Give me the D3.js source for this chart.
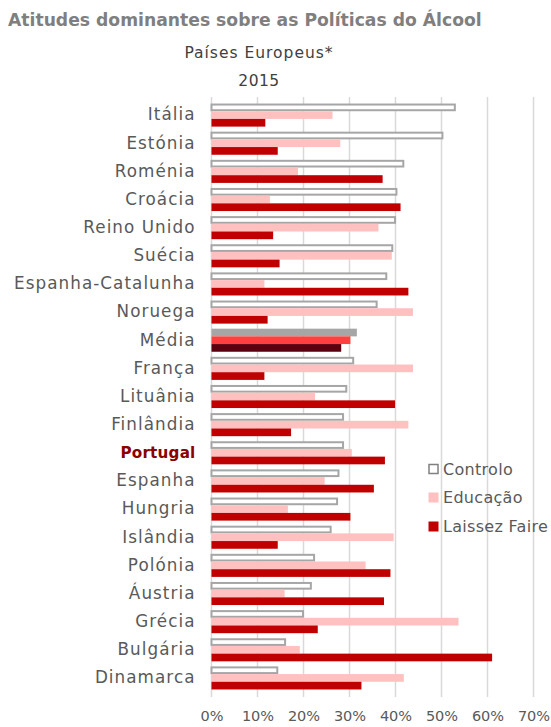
<!DOCTYPE html>
<html><head><meta charset="utf-8">
<script src="https://cdn.jsdelivr.net/npm/d3@7"></script>
<style>body{margin:0;background:#fff;} svg{display:block;}</style>
</head><body>
<script>
const categories = ["Itália","Estónia","Roménia","Croácia","Reino Unido","Suécia","Espanha-Catalunha","Noruega","Média","França","Lituânia","Finlândia","Portugal","Espanha","Hungria","Islândia","Polónia","Áustria","Grécia","Bulgária","Dinamarca"];
const controlo = [52.9,50.2,41.7,40.2,39.9,39.3,38.0,35.9,31.6,30.8,29.3,28.6,28.6,27.6,27.3,25.9,22.3,21.6,19.9,16.0,14.3];
const educacao = [26.3,28.0,18.8,12.7,36.3,39.2,11.5,43.8,30.2,43.8,22.5,42.8,30.5,24.6,16.6,39.6,33.5,15.9,53.7,19.2,41.8];
const laissez  = [11.7,14.4,37.2,41.1,13.4,14.8,42.8,12.2,28.2,11.5,39.9,17.3,37.7,35.3,30.2,14.4,38.9,37.5,23.1,61.0,32.6];
const seriesNames = ["Controlo","Educação","Laissez Faire"];
const xTicks = [0,10,20,30,40,50,60,70];

const W = 551, H = 727;
const FONT = "'DejaVu Sans', sans-serif";
const svg = d3.select("body").append("svg").attr("width", W).attr("height", H);

const x = d3.scaleLinear().domain([0,70]).range([211.5, 533.5]);
const y = d3.scaleBand().domain(categories).range([101, 692]).paddingInner(0.18).paddingOuter(0.09);
const ys = d3.scaleBand().domain(seriesNames).range([0, y.bandwidth()]);

// title
svg.append("text").attr("x", 8).attr("y", 26).attr("font-family", FONT).attr("font-weight", "bold")
  .attr("font-size", 17.2).attr("fill", "#7f7f7f").text("Atitudes dominantes sobre as Políticas do Álcool");
svg.append("text").attr("x", 259).attr("y", 58).attr("text-anchor","middle").attr("font-family", FONT)
  .attr("font-size", 15.5).attr("letter-spacing", 1).attr("fill", "#404040").text("Países Europeus*");
svg.append("text").attr("x", 259).attr("y", 86).attr("text-anchor","middle").attr("font-family", FONT)
  .attr("font-size", 15.5).attr("letter-spacing", 0.5).attr("fill", "#404040").text("2015");

// grid
const g = svg.append("g");
g.selectAll("line.grid").data(xTicks).join("line")
  .attr("x1", d => x(d)).attr("x2", d => x(d)).attr("y1", 97).attr("y2", 697)
  .attr("stroke", "#d9d9d9").attr("stroke-width", 1.5);

// x axis labels
const xAxis = d3.axisBottom(x).tickValues(xTicks).tickFormat(d => d + "%").tickSize(0).tickPadding(14);
const ax = svg.append("g").attr("transform", "translate(0,697)").call(xAxis);
ax.select(".domain").remove();
ax.selectAll("text").attr("font-family", FONT).attr("font-size", 14.5).attr("fill", "#595959");

// bars
const rows = categories.map((c,i) => ({c, vals:[controlo[i], educacao[i], laissez[i]]}));
const fills = ["#ffffff", "#ffc0c0", "#c00000"];
const mediaFills = ["#a6a6a6", "#ff4040", "#5c0010"];
rows.forEach(r => {
  r.vals.forEach((v, k) => {
    const isMedia = r.c === "Média";
    const yy = y(r.c) + ys(seriesNames[k]);
    const h = ys.bandwidth();
    if (k === 0 && !isMedia) {
      g.append("rect").attr("x", x(0)).attr("y", yy + 1).attr("width", x(v) - x(0)).attr("height", h - 2)
        .attr("fill", "#fff").attr("stroke", "#a6a6a6").attr("stroke-width", 2);
    } else {
      g.append("rect").attr("x", x(0)).attr("y", yy).attr("width", x(v) - x(0)).attr("height", h)
        .attr("fill", isMedia ? mediaFills[k] : fills[k]);
    }
  });
});

// y labels
const yAxis = d3.axisLeft(y).tickSize(0).tickPadding(16);
const ay = svg.append("g").attr("transform", `translate(${x(0)},0)`).call(yAxis);
ay.select(".domain").remove();
ay.selectAll("text").attr("font-family", FONT).attr("font-size", 16.8).attr("letter-spacing", 1.05).attr("fill", "#595959")
  .filter(d => d === "Portugal").attr("font-weight", "bold").attr("font-size", 15.2).attr("letter-spacing", 0.2).attr("fill", "#8b0000");

// legend
const legY = [469, 497.5, 526.5];
seriesNames.forEach((s, k) => {
  if (k === 0) {
    svg.append("rect").attr("x", 429).attr("y", legY[k]-4.5).attr("width", 9).attr("height", 9)
      .attr("fill", "#fff").attr("stroke", "#808080").attr("stroke-width", 1.5);
  } else {
    svg.append("rect").attr("x", 428.5).attr("y", legY[k]-5).attr("width", 10).attr("height", 10).attr("fill", fills[k]);
  }
  svg.append("text").attr("x", 443).attr("y", legY[k]).attr("dy", "0.35em").attr("font-family", FONT)
    .attr("font-size", 16).attr("letter-spacing", 0.3).attr("fill", "#595959").text(s);
});
</script>
</body></html>
